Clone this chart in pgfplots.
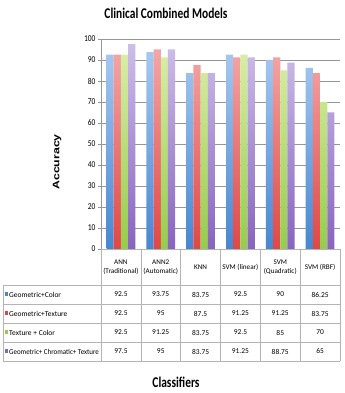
\documentclass[border=0pt]{standalone}
\usepackage{fontspec}
\setmainfont{Carlito}
\newfontfamily\heavy{Liberation Sans}
\usepackage{pgfplots}
\pgfplotsset{compat=1.18}
\usepackage{graphicx}
\definecolor{bluedk}{RGB}{70,135,210}
\definecolor{bluelt}{RGB}{165,200,240}
\definecolor{reddk}{RGB}{225,70,70}
\definecolor{redlt}{RGB}{245,165,165}
\definecolor{greendk}{RGB}{150,205,75}
\definecolor{greenlt}{RGB}{215,237,165}
\definecolor{purpledk}{RGB}{135,100,190}
\definecolor{purplelt}{RGB}{205,190,232}
\definecolor{gridc}{RGB}{150,150,150}
\definecolor{tabc}{RGB}{180,180,180}
\begin{document}
\begin{tikzpicture}[x=1bp,y=1bp]
\path[use as bounding box] (0,0) rectangle (345,393);
\begin{axis}[
  at={(101bp,144bp)}, anchor=south west,
  scale only axis, width=239bp, height=210bp,
  ymin=0, ymax=100, xmin=-0.5, xmax=5.5,
  ytick={0,10,...,100}, xtick=\empty,
  ymajorgrids, grid style={gridc, line width=0.7pt},
  axis lines*=left, axis line style={gridc, line width=0.7pt},
  tick align=outside, major tick length=3bp, tick style={gridc, line width=0.7pt},
  yticklabel style={font=\fontsize{7.5}{8}\selectfont, yscale=1.2, xshift=1bp},
  /pgf/number format/assume math mode=true,
  ybar=0pt, bar width=0.18,
]
\addplot[draw=none, bottom color=bluedk, top color=bluelt] coordinates {(0,92.5) (1,93.75) (2,83.75) (3,92.5) (4,90) (5,86.25)};
\addplot[draw=none, bottom color=reddk, top color=redlt] coordinates {(0,92.5) (1,95) (2,87.5) (3,91.25) (4,91.25) (5,83.75)};
\addplot[draw=none, bottom color=greendk, top color=greenlt] coordinates {(0,92.5) (1,91.25) (2,83.75) (3,92.5) (4,85) (5,70)};
\addplot[draw=none, bottom color=purpledk, top color=purplelt] coordinates {(0,97.5) (1,95) (2,83.75) (3,91.25) (4,88.75) (5,65)};
\end{axis}
% table grid
\begin{scope}[tabc, line width=0.6pt]
\draw (101,144) -- (340,144);
\foreach \y in {108,89,70,51,32} \draw (3,\y) -- (340,\y);
\draw (3,32) -- (3,108);
\foreach \k in {0,...,6} \draw ({101+\k*39.833},32) -- ({101+\k*39.833},144);
\end{scope}
% headers
\begin{scope}[font=\fontsize{7.2}{8.5}\selectfont, align=center]
\node at ({101+0.5*39.833},126) {ANN\\(Traditional)};
\node at ({101+1.5*39.833},126) {ANN2\\(Automatic)};
\node at ({101+2.5*39.833},126) {KNN};
\node at ({101+3.5*39.833},126) {SVM (linear)};
\node at ({101+4.5*39.833},126) {SVM\\(Quadratic)};
\node at ({101+5.5*39.833},126) {SVM (RBF)};
\end{scope}
% rows
\begin{scope}[font=\fontsize{7.5}{8}\selectfont]
\fill[bluedk] (5,96.5) rectangle (8,100.5);
\fill[reddk] (5,77.5) rectangle (8,81.5);
\fill[greendk] (5,58.5) rectangle (8,62.5);
\fill[purpledk] (5,39.5) rectangle (8,43.5);
\node[anchor=west, inner sep=0] at (9,98.5) {Geometric+Color};
\node[anchor=west, inner sep=0] at (9,79.5) {Geometric+Texture};
\node[anchor=west, inner sep=0] at (9,60.5) {Texture + Color};
\node[anchor=west, inner sep=0] at (9,41.5) {\scalebox{0.93}[1]{Geometric+ Chromatic+ Texture}};
\foreach \v [count=\i from 0] in {92.5,93.75,83.75,92.5,90,86.25} \node at ({101+(\i+0.5)*39.833},98.5) {\v};
\foreach \v [count=\i from 0] in {92.5,95,87.5,91.25,91.25,83.75} \node at ({101+(\i+0.5)*39.833},79.5) {\v};
\foreach \v [count=\i from 0] in {92.5,91.25,83.75,92.5,85,70} \node at ({101+(\i+0.5)*39.833},60.5) {\v};
\foreach \v [count=\i from 0] in {97.5,95,83.75,91.25,88.75,65} \node at ({101+(\i+0.5)*39.833},41.5) {\v};
\end{scope}
% titles
\node at (166,380) {\scalebox{1}[1.3]{\fontsize{11.5}{12}\selectfont\bfseries Clinical Combined Models}};
\node[rotate=90] at (57,231) {\scalebox{1.3}[1]{\heavy\fontsize{9.5}{10}\selectfont\bfseries Accuracy}};
\node at (176,11) {\scalebox{1}[1.3]{\fontsize{11.5}{12}\selectfont\bfseries Classifiers}};
\end{tikzpicture}
\end{document}
